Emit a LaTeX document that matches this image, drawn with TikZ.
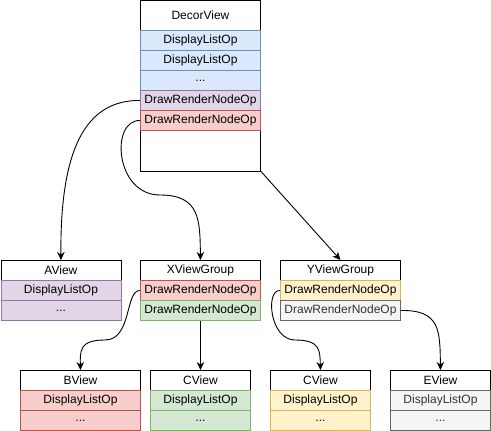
\documentclass[tikz,border=0pt]{standalone}
\usepackage{fontspec}
\setmainfont{Liberation Sans}
\usetikzlibrary{arrows.meta}
\definecolor{bluefill}{HTML}{DAE8FC}
\definecolor{bluedraw}{HTML}{6C8EBF}
\definecolor{purplefill}{HTML}{E1D5E7}
\definecolor{purpledraw}{HTML}{9673A6}
\definecolor{redfill}{HTML}{F8CECC}
\definecolor{reddraw}{HTML}{B85450}
\definecolor{greenfill}{HTML}{D5E8D4}
\definecolor{greendraw}{HTML}{82B366}
\definecolor{yellowfill}{HTML}{FFF2CC}
\definecolor{yellowdraw}{HTML}{D6B656}
\definecolor{grayfill}{HTML}{F5F5F5}
\definecolor{graydraw}{HTML}{666666}
\definecolor{graytext}{HTML}{333333}

\begin{document}
\begin{tikzpicture}[x=1pt,y=-1pt,>={Stealth[length=8pt,width=7.5pt]},
    line width=0.9pt,font=\fontsize{12}{14}\selectfont,
    cell/.style={draw,fill=white,minimum width=120pt,minimum height=20pt,
                 inner sep=0pt,anchor=north west},
    bluerow/.style={cell,fill=bluefill,draw=bluedraw},
    purplerow/.style={cell,fill=purplefill,draw=purpledraw},
    redrow/.style={cell,fill=redfill,draw=reddraw},
    greenrow/.style={cell,fill=greenfill,draw=greendraw},
    yellowrow/.style={cell,fill=yellowfill,draw=yellowdraw},
    grayrow/.style={cell,fill=grayfill,draw=graydraw,text=graytext},
    small/.style={minimum width=100pt}]
    \useasboundingbox (0,0) rectangle (491,431);

    % DecorView
    \node[cell,minimum height=170pt] (decor) at (140,0.5) {};
    \node[cell,minimum height=29.5pt] (decorhead) at (140,0.5) {DecorView};
    \node[bluerow] (dlop1) at (140,30) {DisplayListOp};
    \node[bluerow] (dlop2) at (140,50) {DisplayListOp};
    \node[bluerow] (dlop3) at (140,70) {...};
    \node[purplerow] (drop1) at (140,90) {DrawRenderNodeOp};
    \node[redrow] (drop2) at (140,110) {DrawRenderNodeOp};

    % second level
    \node[cell] (aview) at (0.5,260) {AView};
    \node[purplerow] (aop1) at (0.5,280) {DisplayListOp};
    \node[purplerow] (aop2) at (0.5,300) {...};

    \node[cell] (xgroup) at (140,260) {XViewGroup};
    \node[redrow] (xop1) at (140,280) {DrawRenderNodeOp};
    \node[greenrow] (xop2) at (140,300) {DrawRenderNodeOp};

    \node[cell] (ygroup) at (280,260) {YViewGroup};
    \node[yellowrow] (yop1) at (280,280) {DrawRenderNodeOp};
    \node[grayrow] (yop2) at (280,300) {DrawRenderNodeOp};

    % third level
    \node[cell] (bview) at (20,370) {BView};
    \node[redrow] (bop1) at (20,390) {DisplayListOp};
    \node[redrow] (bop2) at (20,410) {...};

    \node[cell,small] (cviewg) at (150,370) {CView};
    \node[greenrow,small] (cgop1) at (150,390) {DisplayListOp};
    \node[greenrow,small] (cgop2) at (150,410) {...};

    \node[cell,small] (cviewy) at (270,370) {CView};
    \node[yellowrow,small] (cyop1) at (270,390) {DisplayListOp};
    \node[yellowrow,small] (cyop2) at (270,410) {...};

    \node[cell,small] (eview) at (390,370) {EView};
    \node[grayrow,small] (eop1) at (390,390) {DisplayListOp};
    \node[grayrow,small] (eop2) at (390,410) {...};

    % connectors
    \draw[->] (drop1.west) .. controls (85,100) and (60,150) .. (aview.north);
    \draw[->] (drop2.west) .. controls (110,120) and (115,195) .. (160,195)
        .. controls (200,195) and (200,220) .. (xgroup.north);
    \draw[->] (decor.south east) -- (ygroup.north);
    \draw[->] (xop1.west) .. controls (125,290) and (132,340) .. (105,340)
        .. controls (80,340) and (80,350) .. (bview.north);
    \draw[->] (xop2.south) -- (cviewg.north);
    \draw[->] (yop1.west) .. controls (265,290) and (270,340) .. (295,340)
        .. controls (320,340) and (320,350) .. (cviewy.north);
    \draw[->] (yop2.east) .. controls (440,310) and (440,330) .. (eview.north);
\end{tikzpicture}
\end{document}
